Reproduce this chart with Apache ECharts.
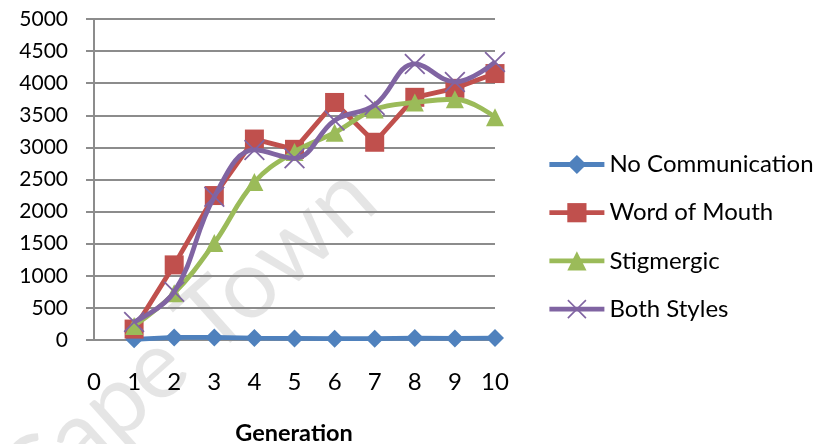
<!DOCTYPE html>
<html>
<head>
<meta charset="utf-8">
<script src="https://cdn.jsdelivr.net/npm/echarts@6/dist/echarts.min.js"></script>
<style>
  html, body { margin: 0; padding: 0; background: #ffffff; }
  #chart { width: 818px; height: 444px; }
</style>
</head>
<body>
<div id="chart"></div>
<script>
// Generations on the x axis and the per-generation values of each strategy
const generations = [1, 2, 3, 4, 5, 6, 7, 8, 9, 10];
const noCommunication = [10, 40, 40, 30, 25, 20, 20, 30, 25, 30];
const wordOfMouth = [170, 1170, 2250, 3130, 2970, 3700, 3080, 3780, 3920, 4150];
const stigmergic = [220, 730, 1510, 2460, 2930, 3230, 3590, 3700, 3750, 3470];
const bothStyles = [280, 750, 2230, 2960, 2830, 3420, 3660, 4300, 4020, 4330];

const seriesNames = ['No Communication', 'Word of Mouth', 'Stigmergic', 'Both Styles'];
const yTicks = { min: 0, max: 5000, step: 500 };
const xTicks = { min: 0, max: 10, step: 1 };

const FONT = 'Lato, "Open Sans", sans-serif';
const AXIS_GRAY = '#8c8c8c';
const LINE_W = 4.8;

// thin "x" cross marker
const crossSymbol = 'path://M0,1.2 L1.2,0 L10,8.8 L18.8,0 L20,1.2 L11.2,10 L20,18.8 L18.8,20 L10,11.2 L1.2,20 L0,18.8 L8.8,10 Z';

function pairs(values) {
  return generations.map((g, i) => [g, values[i]]);
}

const chart = echarts.init(document.getElementById('chart'), null, { renderer: 'canvas' });

chart.setOption({
  animation: false,
  backgroundColor: '#ffffff',
  grid: { left: 94, right: 323, top: 19, bottom: 104, containLabel: false },
  xAxis: {
    type: 'value',
    min: xTicks.min, max: xTicks.max, interval: xTicks.step,
    axisLine: { show: true, lineStyle: { color: AXIS_GRAY, width: 2 } },
    axisTick: { show: false },
    splitLine: { show: false },
    axisLabel: { color: '#000', fontFamily: FONT, fontSize: 24, margin: 30 }
  },
  yAxis: {
    type: 'value',
    min: yTicks.min, max: yTicks.max, interval: yTicks.step,
    axisLine: { show: true, lineStyle: { color: AXIS_GRAY, width: 2 } },
    axisTick: { show: true, length: 8, lineStyle: { color: AXIS_GRAY, width: 2 } },
    splitLine: { show: true, lineStyle: { color: AXIS_GRAY, width: 2 } },
    axisLabel: {
      color: '#000', fontFamily: FONT, fontSize: 21, margin: 26,
      formatter: (v) => String(v)
    }
  },
  legend: {
    orient: 'vertical',
    left: 547,
    top: 152.5,
    padding: 0,
    itemWidth: 55,
    itemHeight: 24,
    itemGap: 24.2,
    data: seriesNames,
    lineStyle: { width: LINE_W },
    textStyle: { color: '#000', fontFamily: FONT, fontSize: 24 }
  },
  graphic: [
    {
      type: 'text',
      z: -10,
      x: 187,
      y: 340,
      rotation: 0.73,
      style: {
        text: 'Cape Town',
        align: 'center',
        verticalAlign: 'middle',
        font: '96px ' + FONT,
        fill: 'rgba(0,0,0,0.10)'
      }
    },
    {
      type: 'text',
      x: 294,
      y: 433,
      style: {
        text: 'Generation',
        align: 'center',
        verticalAlign: 'middle',
        font: 'bold 23.5px ' + FONT,
        fill: '#000'
      }
    }
  ],
  series: [
    {
      name: seriesNames[0],
      type: 'line',
      data: pairs(noCommunication),
      symbol: 'diamond',
      symbolSize: 18,
      lineStyle: { color: '#4F81BD', width: LINE_W },
      itemStyle: { color: '#4F81BD' },
      z: 2
    },
    {
      name: seriesNames[1],
      type: 'line',
      data: pairs(wordOfMouth),
      symbol: 'rect',
      symbolSize: 19,
      lineStyle: { color: '#C0504D', width: LINE_W },
      itemStyle: { color: '#C0504D' },
      z: 3
    },
    {
      name: seriesNames[2],
      type: 'line',
      data: pairs(stigmergic),
      smooth: 0.4,
      symbol: 'triangle',
      symbolSize: 18,
      lineStyle: { color: '#9BBB59', width: LINE_W },
      itemStyle: { color: '#9BBB59' },
      z: 4
    },
    {
      name: seriesNames[3],
      type: 'line',
      data: pairs(bothStyles),
      smooth: 0.4,
      symbol: crossSymbol,
      symbolSize: 21,
      lineStyle: { color: '#8064A2', width: LINE_W },
      itemStyle: { color: '#8064A2' },
      z: 5
    }
  ]
});
</script>
</body>
</html>
